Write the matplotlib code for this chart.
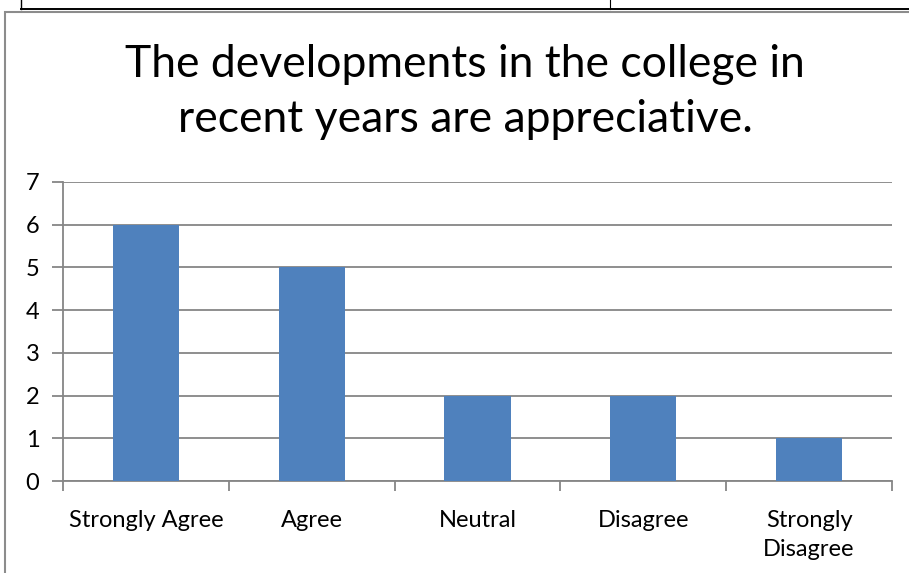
import matplotlib
matplotlib.use("Agg")
import matplotlib.pyplot as plt
from matplotlib.lines import Line2D
from matplotlib.patches import Rectangle

categories = ["Strongly Agree", "Agree", "Neutral", "Disagree", "Strongly\nDisagree"]
counts = [6, 5, 2, 2, 1]
title = "The developments in the college in\nrecent years are appreciative."

plt.rcParams["font.family"] = ["Lato", "DejaVu Sans"]

W, H = 909, 573
fig = plt.figure(figsize=(W / 100, H / 100), dpi=100)

# page decorations: table lines above and the chart frame
fig.add_artist(Line2D([21 / W, 1], [1 - 9 / H, 1 - 9 / H], color="black", lw=1.4))
fig.add_artist(Line2D([21 / W, 21 / W], [1 - 9 / H, 1], color="black", lw=1.0))
fig.add_artist(Line2D([610 / W, 610 / W], [1 - 9 / H, 1], color="black", lw=0.8))
fig.add_artist(Rectangle((5 / W, -0.05), 1.0, 1 - 12 / H + 0.05, fill=False,
                         edgecolor="#8c8c8c", lw=1.5))

ax = fig.add_axes([63 / W, 1 - 481 / H, (892 - 63) / W, (481 - 182) / H])
x = list(range(len(categories)))
ax.bar(x, counts, width=0.4, color="#4F81BD", zorder=3)
ax.set_xlim(-0.5, len(categories) - 0.5)
ax.set_ylim(0, 7)
ax.set_yticks(range(8))
ax.yaxis.grid(True, color="#868686", lw=1.3, zorder=0)
for s in ["top", "right"]:
    ax.spines[s].set_visible(False)
ax.spines["left"].set_color("#868686")
ax.spines["bottom"].set_color("#868686")
ax.spines["left"].set_linewidth(1.3)
ax.spines["bottom"].set_linewidth(1.3)
ax.tick_params(axis="y", length=8, color="#868686", width=1.3, labelsize=17, pad=9)
ax.set_xticks([i + 0.5 for i in range(-1, len(categories))], minor=False)
ax.set_xticklabels([])
ax.tick_params(axis="x", length=7, color="#868686", width=1.3)
ax.set_xticks(x, minor=True)
ax.set_xticklabels(categories, minor=True, fontsize=17, linespacing=1.45)
ax.tick_params(axis="x", which="minor", length=0, pad=21)
ax.set_axisbelow(True)

fig.text(465 / W, 1 - 92 / H, title, ha="center", va="center", fontsize=32,
         linespacing=1.45)

fig.savefig("out.png", dpi=100)
